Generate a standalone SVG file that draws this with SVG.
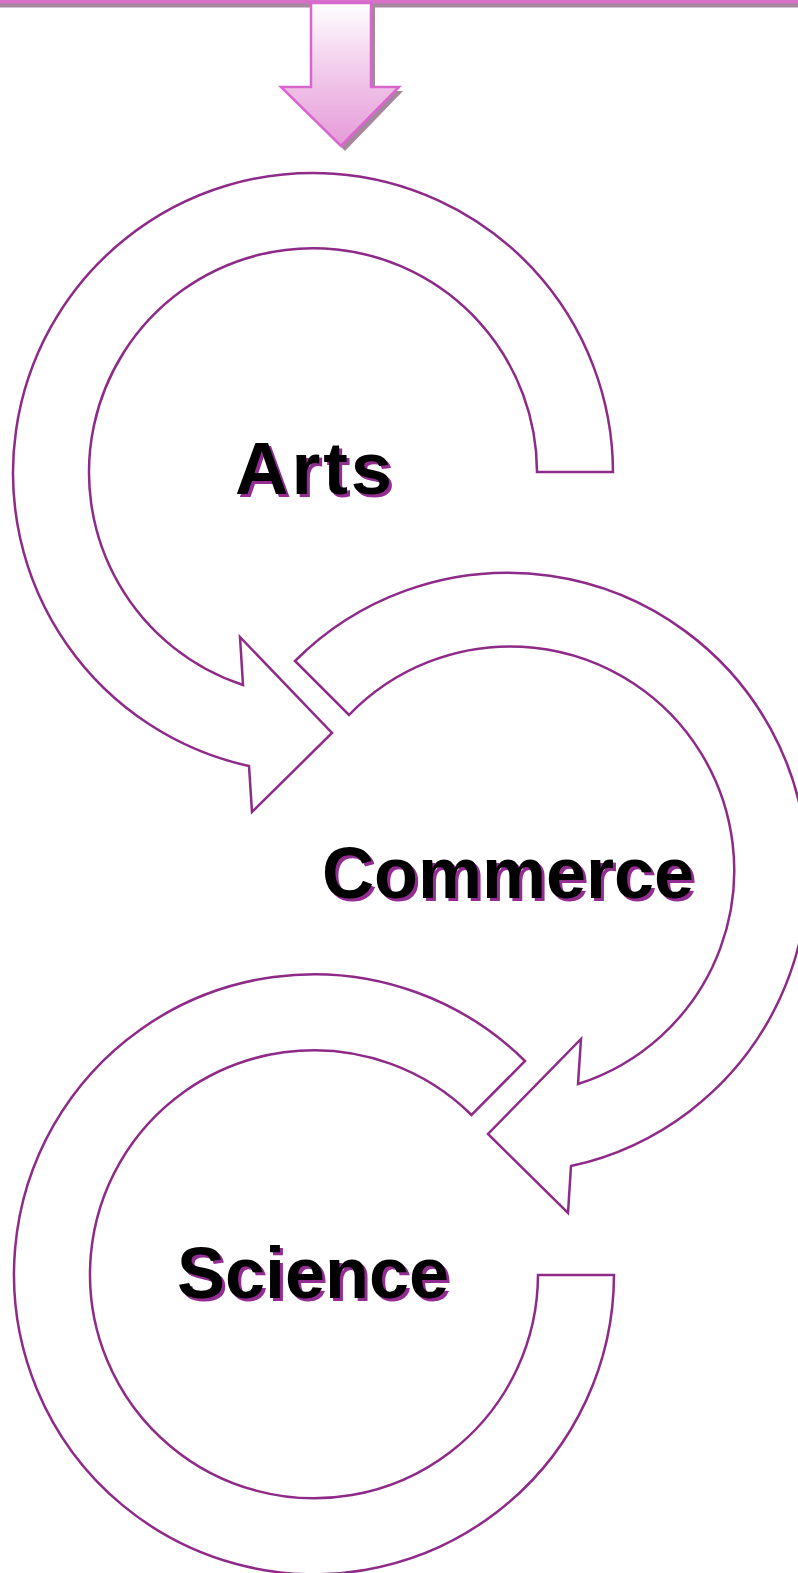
<svg xmlns="http://www.w3.org/2000/svg" width="798" height="1573" viewBox="0 0 798 1573">
  <defs>
    <linearGradient id="pinkGrad" x1="0" y1="0" x2="0" y2="1">
      <stop offset="0" stop-color="#FFFFFF"/>
      <stop offset="0.45" stop-color="#F2CDEC"/>
      <stop offset="1" stop-color="#E69AD9"/>
    </linearGradient>
    <style>
      .band { fill: #FFFFFF; stroke: #8E2A88; stroke-width: 2.5; stroke-linejoin: miter; }
      .lbl { font-family: "Liberation Sans", Arial, sans-serif; font-weight: bold; font-size: 72px; text-anchor: middle; }
      .arts { font-size: 74px; letter-spacing: 3px; }
      .shadow { fill: #932D91; }
      .main { fill: #000000; }
    </style>
  </defs>
  <rect x="0" y="0" width="798" height="1573" fill="#FFFFFF"/>

  <g id="top-bar">
    <rect x="0" y="3" width="798" height="4.5" fill="#A8889F"/>
    <rect x="0" y="0" width="798" height="3.5" fill="#D670C8"/>
  </g>

  <g id="down-arrow">
    <polygon points="315,7 375,7 375,91 403,91 345,151 285,91 315,91" fill="#9C7B91" opacity="0.9"/>
    <polygon points="311,3 371,3 371,87 399,87 341,146 281,87 311,87" fill="url(#pinkGrad)" stroke="#D966CF" stroke-width="2.5"/>
  </g>

  <g id="connectors">
    <g id="arrow-arts">
      <path class="band" d="M 613 472 A 300 300 0 1 0 249 766 L 252 812 L 332 733 L 240 637 L 243 685 A 224 224 0 1 1 537 472 Z"/>
    </g>
    <g id="arrow-commerce">
      <path class="band" d="M 295 661 A 300 300 0 1 1 571 1166 L 568 1213 L 488 1134 L 581 1039 L 578 1084 A 224 224 0 1 0 349 715 Z"/>
    </g>
    <g id="arrow-science">
      <path class="band" d="M 525 1061 A 300 300 0 1 0 614 1275 L 538 1275 A 224 224 0 1 1 471.5 1115 Z"/>
    </g>
  </g>

  <g id="node-arts">
    <text class="lbl arts shadow" x="318" y="497">Arts</text>
    <text class="lbl arts main" x="315" y="494">Arts</text>
  </g>
  <g id="node-commerce">
    <text class="lbl shadow" x="511" y="901">Commerce</text>
    <text class="lbl main" x="508" y="898">Commerce</text>
  </g>
  <g id="node-science">
    <text class="lbl shadow" x="316" y="1301">Science</text>
    <text class="lbl main" x="313" y="1298">Science</text>
  </g>
</svg>
